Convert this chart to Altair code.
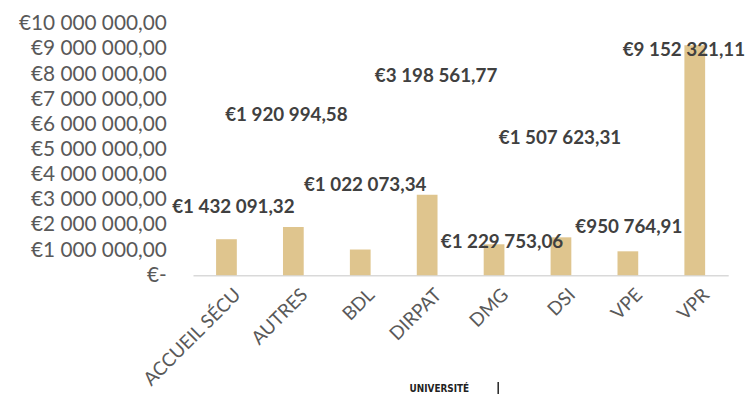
import altair as alt
import pandas as pd

categories = ["ACCUEIL SÉCU", "AUTRES", "BDL", "DIRPAT", "DMG", "DSI", "VPE", "VPR"]
values = [1432091.32, 1920994.58, 1022073.34, 3198561.77, 1229753.06, 1507623.31, 950764.91, 9152321.11]
y_ticks = [0, 1000000, 2000000, 3000000, 4000000, 5000000, 6000000, 7000000, 8000000, 9000000, 10000000]

# label nudges (style): pixel offsets from the top-centre of each bar, as in the original slide
LABEL_NUDGE = {
    "ACCUEIL SÉCU": (7, -33),
    "AUTRES": (-7, -113),
    "BDL": (5, -65),
    "DIRPAT": (9, -120),
    "DMG": (8, -2),
    "DSI": (-1, -100),
    "VPE": (1, -25),
    "VPR": (-11, 5),
}

df = pd.DataFrame({"cat": categories, "value": values})

FONT = "Lato"
BAR = "#DFC58E"

x_enc = alt.X(
    "cat:N",
    sort=categories,
    title=None,
    scale=alt.Scale(paddingInner=0.69, paddingOuter=0.345),
    axis=alt.Axis(
        labelAngle=-45,
        labelFont=FONT,
        labelFontSize=19,
        labelColor="#595959",
        labelPadding=10,
        labelOffset=5,
        ticks=False,
        domainColor="#D9D9D9",
        domainWidth=1.5,
        grid=False,
    ),
)
y_enc = alt.Y(
    "value:Q",
    title=None,
    scale=alt.Scale(domain=[0, 10000000]),
    axis=alt.Axis(
        values=y_ticks,
        format="$,.2f",
        labelExpr="datum.value == 0 ? '€-' : datum.label",
        labelFont=FONT,
        labelFontSize=21,
        labelColor="#595959",
        labelPadding=27,
        labelOverlap=False,
        ticks=False,
        domain=False,
        grid=False,
    ),
)

bars = alt.Chart(df).mark_bar(color=BAR).encode(x=x_enc, y=y_enc)

layers = [bars]
for c in categories:
    dx, dy = LABEL_NUDGE[c]
    layers.append(
        alt.Chart(df)
        .transform_filter(alt.datum.cat == c)
        .mark_text(dx=dx, dy=dy, font=FONT, fontWeight="bold", fontSize=19, color="#404040", baseline="middle")
        .encode(
            x=x_enc,
            y=y_enc,
            text=alt.Text("value:Q", format="$,.2f"),
        )
    )

logo = alt.Chart(pd.DataFrame({"t": ["UNIVERSITÉ"]})).mark_text(
    font="DejaVu Sans Condensed", fontWeight="bold", fontSize=10, color="#222222", align="center", baseline="middle"
).encode(x=alt.value(249), y=alt.value(369), text="t:N")
bar_sep = alt.Chart(pd.DataFrame({"t": [1]})).mark_rule(color="#222222", strokeWidth=1.5).encode(
    x=alt.value(308.5), y=alt.value(362), y2=alt.value(380)
)
layers += [logo, bar_sep]

chart = (
    alt.layer(*layers)
    .properties(
        width=541,
        height=254,
        autosize=alt.AutoSizeParams(type="none"),
        padding={"left": 187, "top": 14, "right": 20, "bottom": 118},
    )
    .configure(
        locale={"number": {"decimal": ",", "thousands": " ", "grouping": [3], "currency": ["€", ""]}}
    )
    .configure_view(stroke=None)
)

chart.save("out.html", embed_options={"renderer": "svg", "actions": False})
